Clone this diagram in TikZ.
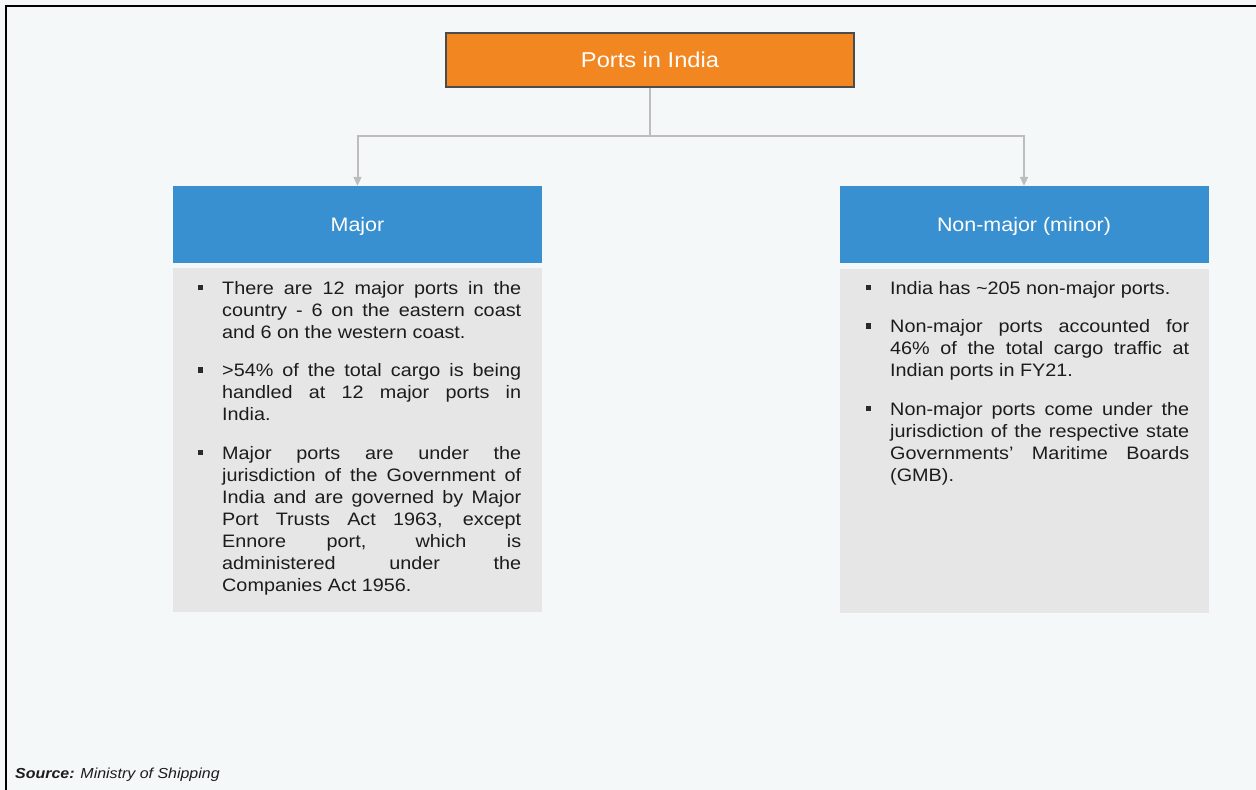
\documentclass[tikz,border=0pt]{standalone}
\usepackage{fontspec}
\setmainfont{Liberation Sans}[FakeStretch=1.1]
\usetikzlibrary{arrows.meta}
\definecolor{bgc}{HTML}{F4F8F9}
\definecolor{orangec}{HTML}{F28621}
\definecolor{bluec}{HTML}{3990D0}
\definecolor{bodyc}{HTML}{E6E6E6}
\definecolor{connc}{HTML}{BDBDBD}
\definecolor{textc}{HTML}{1C1C1C}
\definecolor{bulletc}{HTML}{2A2A2A}
\newcommand{\sqb}{\leavevmode\llap{\raisebox{4pt}{\textcolor{bulletc}{\rule{5.5pt}{5.5pt}}}\hspace{19pt}}}
\newcommand{\itemgap}{\par\vspace{16.5pt}}
\tikzset{
  rootbox/.style={draw=black!70, line width=1.2pt, fill=orangec, text=white, minimum width=408pt, minimum height=54pt, inner sep=0pt, text height=15.5pt, text depth=0pt, font=\fontsize{21.5}{24}\selectfont},
  hdrbox/.style={fill=bluec, text=white, minimum width=369pt, minimum height=77pt, inner sep=0pt, text height=14pt, text depth=0pt, font=\fontsize{19.5}{23}\selectfont},
  bodybox/.style={fill=bodyc, minimum width=369pt, minimum height=344pt, inner sep=0pt},
  bodytext/.style={anchor=north west, inner sep=0pt, text width=299pt, align=justify, text=textc, font=\fontsize{18}{22}\selectfont},
  conn/.style={draw=connc, line width=2pt},
  connarrow/.style={conn, -{Triangle[length=9pt,width=8pt]}}
}
\begin{document}
\begin{tikzpicture}[x=1pt,y=-1pt]
\useasboundingbox (0,0) rectangle (1256,790);
\fill[bgc] (0,0) rectangle (1256,790);
\draw[black, line width=2pt] (6,790) -- (6,6) -- (1256,6);

\node[rootbox] (root) at (650,60) {Ports in India};
\node[hdrbox] (major) at (357.5,224.5) {Major};
\node[hdrbox] (minor) at (1024,224.5) {Non-major (minor)};
\node[bodybox] (majorbody) at (357.5,440) {};
\node[bodybox] (minorbody) at (1024,440.5) {};

\coordinate (j) at (650,136);
\draw[conn] (root.south) -- (j);
\draw[connarrow] (j) -| (major.north);
\draw[connarrow] (j) -| (minor.north);

\node[bodytext] (majortext) at (222,281) {%
\sqb There are 12 major ports in the\linebreak country - 6 on the eastern coast\linebreak and 6 on the western coast.\itemgap
\sqb >54\% of the total cargo is being\linebreak handled at 12 major ports in\linebreak India.\itemgap
\sqb Major ports are under the\linebreak jurisdiction of the Government of\linebreak India and are governed by Major\linebreak Port Trusts Act 1963, except\linebreak Ennore port, which is\linebreak administered under the\linebreak Companies Act 1956.};

\node[bodytext] (minortext) at (890,281) {%
\sqb India has \textasciitilde205 non-major ports.\itemgap
\sqb Non-major ports accounted for\linebreak 46\% of the total cargo traffic at\linebreak Indian ports in FY21.\itemgap
\sqb Non-major ports come under the\linebreak jurisdiction of the respective state\linebreak Governments' Maritime Boards\linebreak (GMB).};

\node[anchor=base west, inner sep=0pt, text=textc, font=\fontsize{14.5}{17}\selectfont] (src) at (15,778) {\textbf{\textit{Source:}} \textit{Ministry of Shipping}};
\end{tikzpicture}
\end{document}
